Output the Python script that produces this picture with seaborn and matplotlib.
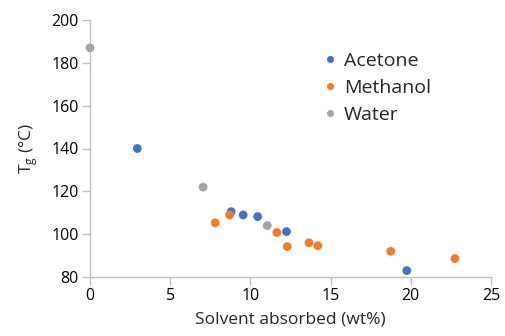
import matplotlib
matplotlib.use("Agg")
import matplotlib.pyplot as plt
import seaborn as sns
import pandas as pd

acetone_x = [2.95, 8.8, 9.55, 10.45, 12.25, 19.75]
acetone_y = [140, 110.5, 109, 108.2, 101.2, 83]
methanol_x = [7.8, 8.7, 11.65, 12.3, 13.65, 14.2, 18.75, 22.75]
methanol_y = [105.3, 109, 100.8, 94.2, 96, 94.6, 92, 88.6]
water_x = [0.0, 7.05, 11.05]
water_y = [187, 122, 104]

df = pd.concat([
    pd.DataFrame({"x": acetone_x, "y": acetone_y, "Solvent": "Acetone"}),
    pd.DataFrame({"x": methanol_x, "y": methanol_y, "Solvent": "Methanol"}),
    pd.DataFrame({"x": water_x, "y": water_y, "Solvent": "Water"}),
])

sns.set_style("white")
plt.rcParams["font.family"] = ["Open Sans", "DejaVu Sans"]
plt.rcParams["mathtext.fontset"] = "custom"
plt.rcParams["mathtext.rm"] = "Open Sans"

fig = plt.figure(figsize=(5.05, 3.36), dpi=100)
ax = fig.add_axes([90/505, 1-277/336, 401/505, 257/336])
palette = {"Acetone": "#4472C4", "Methanol": "#ED7D31", "Water": "#A5A5A5"}
sns.scatterplot(data=df, x="x", y="y", hue="Solvent", palette=palette, s=40,
                edgecolor="none", ax=ax, clip_on=False, zorder=3)

ax.set_xlim(0, 25)
ax.set_ylim(80, 200)
ax.set_xticks([0, 5, 10, 15, 20, 25])
ax.set_yticks(range(80, 201, 20))
for s in ["top", "right"]:
    ax.spines[s].set_visible(False)
for s in ["left", "bottom"]:
    ax.spines[s].set_color("#BFBFBF")
    ax.spines[s].set_linewidth(1.0)
ax.tick_params(axis="both", which="major", direction="out", length=6, width=1.0,
               color="#BFBFBF", labelsize=11.5, labelcolor="#000000", pad=2)
ax.tick_params(axis="x", bottom=True)
ax.tick_params(axis="y", left=True)
ax.set_xlabel("Solvent absorbed (wt%)", fontsize=12.5, labelpad=5)
ax.set_ylabel("T$_\\mathregular{g}$ (°C)", fontsize=12.5, labelpad=8)

leg = ax.legend(loc="upper left", bbox_to_anchor=(0.56, 0.905), frameon=False,
                fontsize=14, handletextpad=0.3, handlelength=0.8,
                labelspacing=0.45, markerscale=0.8, borderaxespad=0)
ax.grid(False)
fig.savefig("out.png", dpi=100)
